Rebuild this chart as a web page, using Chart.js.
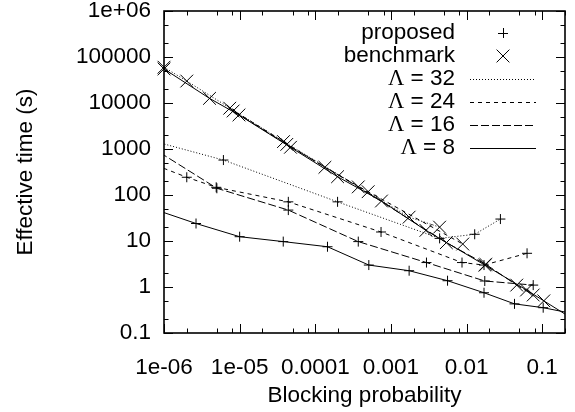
<!DOCTYPE html>
<html>
<head>
<meta charset="utf-8">
<script src="https://cdn.jsdelivr.net/npm/chart.js@4.4.1/dist/chart.umd.min.js"></script>
<style>
html, body { margin: 0; padding: 0; background: #fff; }
canvas { display: block; }
</style>
</head>
<body>
<canvas id="chartCanvas" width="575" height="412"></canvas>
<script>
// Effective time vs blocking probability

// axis ticks
const xTickValues = [1e-6, 1e-5, 1e-4, 1e-3, 1e-2, 1e-1];
const xTickLabels = ['1e-06', '1e-05', '0.0001', '0.001', '0.01', '0.1'];
const yTickValues = [0.1, 1, 10, 100, 1000, 10000, 100000, 1000000];
const yTickLabels = ['0.1', '1', '10', '100', '1000', '10000', '100000', '1e+06'];

// proposed scheme (+), one curve per Lambda
// (first point lies left of the plotted range, the line enters from the edge)
const prop32X = [5e-7, 6.1e-6, 1.97e-4, 4.4e-3, 1.28e-2, 2.8e-2];
const prop32Y = [1750, 575, 71, 11.4, 14, 30];
const prop24X = [5e-7, 2e-6, 4.9e-6, 4.4e-5, 7.4e-4, 8.7e-3, 1.7e-2, 6.3e-2];
const prop24Y = [590, 243, 147, 71, 15.7, 3.4, 3.0, 5.4];
const prop16X = [5e-7, 5e-6, 4.4e-5, 3.7e-4, 2.95e-3, 1.74e-2, 7.6e-2];
const prop16Y = [1500, 140, 47, 9.7, 3.4, 1.35, 1.1];
const prop8X = [5e-7, 2.65e-6, 1e-5, 3.77e-5, 1.45e-4, 5.1e-4, 1.74e-3, 5.6e-3, 1.7e-2, 4.3e-2, 0.103, 0.3];
const prop8Y = [61, 24, 12.4, 9.7, 7.5, 3.0, 2.26, 1.37, 0.75, 0.43, 0.355, 0.25];

// benchmark (x), one curve per Lambda
const bench32X = [1e-6, 2e-6, 3.8e-5, 1.74e-3, 4.4e-3];
const bench32Y = [60000, 30000, 1450, 33, 20];
const bench24X = [7.4e-6, 1.34e-4, 5e-4, 8.9e-3];
const bench24Y = [7700, 400, 118, 8.6];
const bench16X = [8.2e-6, 4.2e-5, 3.7e-4, 5.4e-3, 1.8e-2, 4.6e-2, 7.6e-2];
const bench16Y = [6700, 1260, 150, 9.2, 3.1, 1.1, 0.67];
const bench8X = [1e-6, 4e-6, 9.8e-6, 4.7e-5, 1.97e-4, 7.5e-4, 2.9e-3, 1.74e-2, 6.2e-2, 0.105, 0.3];
const bench8Y = [55000, 12600, 5500, 1090, 250, 74, 17, 3.0, 0.86, 0.5, 0.17];

const lambdaLabels = ['32', '24', '16', '8'];

const FONT = '"Liberation Sans", Arial, Helvetica, sans-serif';
const lambdaDash = {'32': [1, 2], '24': [4, 4], '16': [8, 3], '8': []};

function pts(xs, ys) {
    return xs.map(function (x, i) { return {x: x, y: ys[i]}; });
}

function curve(xs, ys, lam, marker) {
    var isBench = marker === 'crossRot';
    return {
        data: pts(xs, ys),
        showLine: true,
        borderColor: '#000',
        borderWidth: 1,
        borderDash: lambdaDash[lam],
        pointStyle: marker,
        pointRadius: isBench ? 9 : 5,
        pointBorderWidth: 1,
        pointBorderColor: '#000',
        pointBackgroundColor: 'rgba(0,0,0,0)',
        clip: {left: isBench ? 10 : 0, top: 0, right: 0, bottom: 0}
    };
}

const datasets = [
    curve(prop32X, prop32Y, '32', 'cross'),
    curve(bench32X, bench32Y, '32', 'crossRot'),
    curve(prop24X, prop24Y, '24', 'cross'),
    curve(bench24X, bench24Y, '24', 'crossRot'),
    curve(prop16X, prop16Y, '16', 'cross'),
    curve(bench16X, bench16Y, '16', 'crossRot'),
    curve(prop8X, prop8Y, '8', 'cross'),
    curve(bench8X, bench8Y, '8', 'crossRot')
];

// gnuplot style frame with inward ticks on all four sides
const frameTicks = {
    id: 'frameTicks',
    afterDatasetsDraw(chart) {
        const ctx = chart.ctx, a = chart.chartArea;
        const xs = chart.scales.x, ys = chart.scales.y;
        ctx.save();
        ctx.strokeStyle = '#000';
        ctx.lineWidth = 1;
        ctx.beginPath();
        for (let e = -6; e <= -1; e++) {
            [1, 2, 5, 8].forEach(function (m) {
                const v = m * Math.pow(10, e);
                if (v > xs.max) return;
                const px = Math.round(xs.getPixelForValue(v)) + 0.5;
                const len = m === 1 ? 9 : 4.5;
                ctx.moveTo(px, a.bottom); ctx.lineTo(px, a.bottom - len);
                ctx.moveTo(px, a.top); ctx.lineTo(px, a.top + len);
            });
        }
        for (let e = -1; e <= 6; e++) {
            [1, 2, 5].forEach(function (m) {
                const v = m * Math.pow(10, e);
                if (v > ys.max) return;
                const py = Math.round(ys.getPixelForValue(v)) + 0.5;
                const len = m === 1 ? 9 : 4.5;
                ctx.moveTo(a.left, py); ctx.lineTo(a.left + len, py);
                ctx.moveTo(a.right, py); ctx.lineTo(a.right - len, py);
            });
        }
        ctx.stroke();
        ctx.lineWidth = 1.6;
        ctx.strokeRect(a.left, a.top, a.right - a.left, a.bottom - a.top);
        ctx.restore();
    }
};

// key in the top right corner: text right aligned, sample to its right
const keyBox = {
    id: 'keyBox',
    afterDraw(chart) {
        const ctx = chart.ctx;
        const textRight = 455, sampleL = 470, sampleR = 536, sampleC = 503;
        const rowY = [33, 56, 79, 102, 125, 148];
        ctx.save();
        ctx.fillStyle = '#000';
        ctx.strokeStyle = '#000';
        ctx.lineWidth = 1;
        ctx.textBaseline = 'middle';
        ctx.textAlign = 'right';
        ctx.font = '22.5px ' + FONT;
        ctx.fillText('proposed', textRight, rowY[0]);
        ctx.fillText('benchmark', textRight, rowY[1]);
        ctx.beginPath();
        ctx.moveTo(sampleC - 5, rowY[0] + 0.5); ctx.lineTo(sampleC + 5, rowY[0] + 0.5);
        ctx.moveTo(sampleC + 0.5, rowY[0] - 5); ctx.lineTo(sampleC + 0.5, rowY[0] + 5);
        ctx.moveTo(sampleC - 6.4, rowY[1] - 6.4); ctx.lineTo(sampleC + 6.4, rowY[1] + 6.4);
        ctx.moveTo(sampleC - 6.4, rowY[1] + 6.4); ctx.lineTo(sampleC + 6.4, rowY[1] - 6.4);
        ctx.stroke();
        lambdaLabels.forEach(function (lam, i) {
            const y = rowY[i + 2];
            const rest = ' = ' + lam;
            ctx.font = '22.5px ' + FONT;
            const w = ctx.measureText(rest).width;
            ctx.fillText(rest, textRight, y);
            ctx.font = '22.5px "Liberation Serif", "Times New Roman", serif';
            ctx.fillText('\u039B', textRight - w, y);
            ctx.setLineDash(lambdaDash[lam]);
            ctx.beginPath();
            ctx.moveTo(sampleL, Math.round(y) + 0.5);
            ctx.lineTo(sampleR, Math.round(y) + 0.5);
            ctx.stroke();
        });
        ctx.restore();
    }
};

function makeChart() {
    new Chart(document.getElementById('chartCanvas'), {
        type: 'scatter',
        data: {datasets: datasets},
        plugins: [frameTicks, keyBox],
        options: {
            responsive: false,
            animation: false,
            devicePixelRatio: 1,
            events: [],
            layout: {padding: {top: 11, right: 10, left: 0, bottom: 0}},
            plugins: {legend: {display: false}, tooltip: {enabled: false}},
            scales: {
                x: {
                    type: 'logarithmic',
                    min: 1e-6,
                    max: 0.2,
                    grid: {display: false, drawTicks: false},
                    border: {display: false},
                    afterBuildTicks: function (s) {
                        s.ticks = xTickValues.map(function (v) { return {value: v}; });
                    },
                    afterFit: function (s) {
                        s.height = 79;
                        s.paddingLeft = 0; s.paddingRight = 0;
                    },
                    ticks: {
                        autoSkip: false,
                        maxRotation: 0,
                        padding: 21,
                        color: '#000',
                        font: {family: FONT, size: 22.5},
                        callback: function (v, i) { return xTickLabels[i]; }
                    },
                    title: {
                        display: true,
                        text: 'Blocking probability',
                        color: '#000',
                        font: {family: FONT, size: 22.5},
                        padding: {top: 0, bottom: 3}
                    }
                },
                y: {
                    type: 'logarithmic',
                    min: 0.1,
                    max: 1e6,
                    grid: {display: false, drawTicks: false},
                    border: {display: false},
                    afterBuildTicks: function (s) {
                        s.ticks = yTickValues.map(function (v) { return {value: v}; });
                    },
                    afterFit: function (s) {
                        s.width = 164;
                        s.paddingTop = 0; s.paddingBottom = 0;
                    },
                    ticks: {
                        autoSkip: false,
                        padding: 13,
                        color: '#000',
                        font: {family: FONT, size: 22.5},
                        callback: function (v, i) { return yTickLabels[i]; }
                    },
                    title: {
                        display: true,
                        text: 'Effective time (s)',
                        color: '#000',
                        font: {family: FONT, size: 22.5},
                        padding: {top: 12, bottom: 0}
                    }
                }
            }
        }
    });
}

makeChart();
</script>
</body>
</html>
